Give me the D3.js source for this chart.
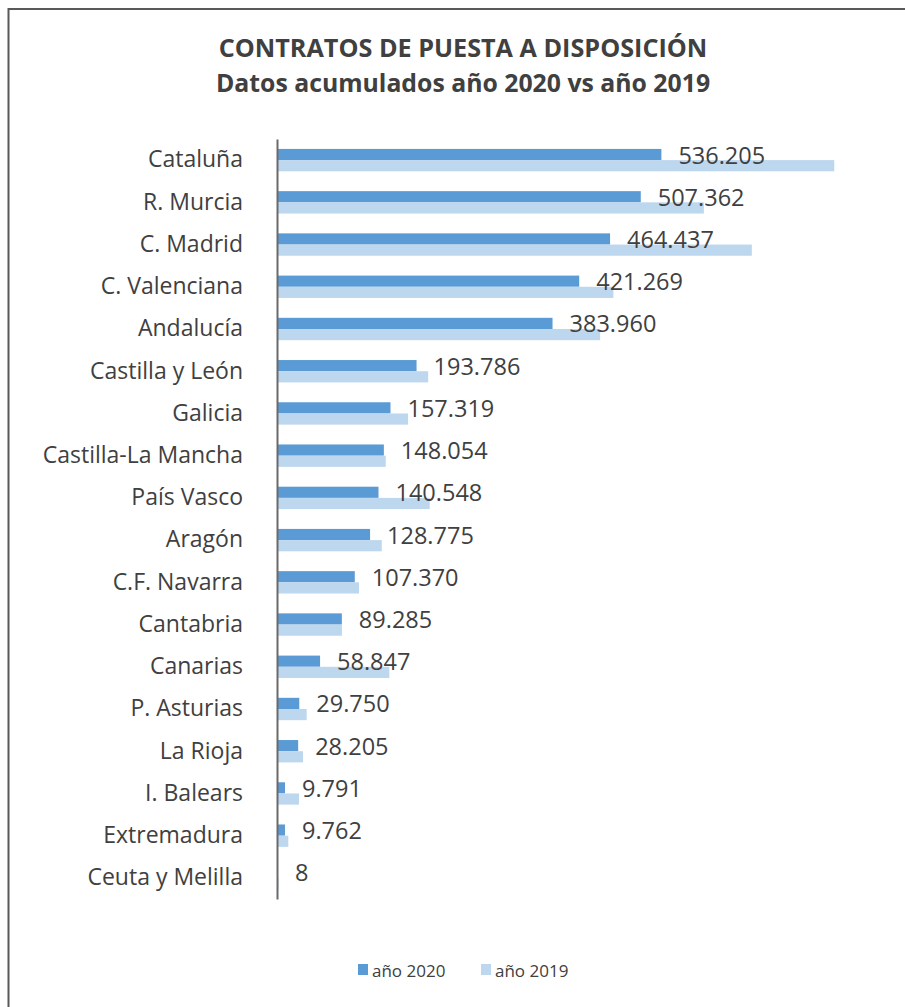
<!DOCTYPE html>
<html>
<head>
<meta charset="utf-8">
<script src="https://cdn.jsdelivr.net/npm/d3@7"></script>
<style>
  body { margin: 0; background: #fff; }
  svg { display: block; font-family: "Open Sans", sans-serif; }
</style>
</head>
<body>
<div id="chart"></div>
<script>
// data
const regions = ["Cataluña", "R. Murcia", "C. Madrid", "C. Valenciana", "Andalucía",
  "Castilla y León", "Galicia", "Castilla-La Mancha", "País Vasco", "Aragón",
  "C.F. Navarra", "Cantabria", "Canarias", "P. Asturias", "La Rioja",
  "I. Balears", "Extremadura", "Ceuta y Melilla"];
const values2020 = [536205, 507362, 464437, 421269, 383960, 193786, 157319, 148054,
  140548, 128775, 107370, 89285, 58847, 29750, 28205, 9791, 9762, 8];
// 2019 (no labels in the source)
const values2019 = [778000, 595600, 662700, 469100, 450500, 210000, 181900, 150700,
  212200, 145100, 113300, 89400, 155700, 40100, 35000, 29400, 14400, 600];
const seriesNames = ["año 2020", "año 2019"];
const colors = ["#5b9bd5", "#bdd7ee"];
const titleLines = ["CONTRATOS DE PUESTA A DISPOSICIÓN", "Datos acumulados año 2020 vs año 2019"];

const W = 905, H = 1007;
const fmt = v => d3.format(",")(v).replace(/,/g, ".");

const svg = d3.select("#chart").append("svg")
  .attr("width", W)
  .attr("height", H);

svg.append("rect").attr("width", W).attr("height", H).attr("fill", "#fff");

// outer frame (right/bottom edges run off the picture)
svg.append("rect")
  .attr("x", 8.5).attr("y", 9)
  .attr("width", W + 20).attr("height", H + 20)
  .attr("fill", "none")
  .attr("stroke", "#595959")
  .attr("stroke-width", 2);

// title
svg.selectAll("text.title")
  .data(titleLines)
  .enter().append("text")
    .attr("class", "title")
    .attr("x", 463)
    .attr("y", (d, i) => 57 + i * 35)
    .attr("text-anchor", "middle")
    .attr("font-weight", "bold")
    .attr("font-size", (d, i) => i == 0 ? 25.2 : 24.8)
    .attr("fill", "#404040")
    .text(d => d);

const rows = regions.map((r, i) => ({region: r, v: [values2020[i], values2019[i]]}));

const y = d3.scaleBand()
  .domain(regions)
  .range([139, 899])
  .paddingInner(0.47)
  .paddingOuter(0.235);

const ySub = d3.scaleBand()
  .domain([0, 1])
  .range([0, y.bandwidth()]);

const x = d3.scaleLinear()
  .domain([0, 800000])
  .range([278, 850]);

const groups = svg.append("g")
  .selectAll("g")
  .data(rows)
  .enter().append("g")
    .attr("transform", d => "translate(0," + y(d.region) + ")");

groups.selectAll("rect")
  .data(d => d.v)
  .enter().append("rect")
    .attr("x", x(0))
    .attr("y", (d, i) => ySub(i))
    .attr("width", d => x(d) - x(0))
    .attr("height", ySub.bandwidth())
    .attr("fill", (d, i) => colors[i]);

// data labels (2020 series)
groups.append("text")
  .attr("x", d => x(d.v[0]) + 17)
  .attr("y", ySub(0) + ySub.bandwidth() / 2)
  .attr("dominant-baseline", "central")
  .attr("font-size", 23.5)
  .attr("fill", "#404040")
  .text(d => fmt(d.v[0]));

// category axis
const axis = svg.append("g")
  .attr("transform", "translate(277,0)")
  .call(d3.axisLeft(y).tickSize(0).tickPadding(34));
axis.select(".domain")
  .attr("stroke", "#6a6a6a")
  .attr("stroke-width", 2);
axis.selectAll(".tick text")
  .attr("font-family", "Open Sans, sans-serif")
  .attr("font-size", 23)
  .attr("fill", "#404040");

// legend
const legend = svg.append("g")
  .selectAll("g")
  .data(seriesNames)
  .enter().append("g")
    .attr("transform", (d, i) => "translate(" + (358 + i * 123) + ",964)");
legend.append("rect")
  .attr("width", 10).attr("height", 11)
  .attr("fill", (d, i) => colors[i]);
legend.append("text")
  .attr("x", 14)
  .attr("y", 6)
  .attr("dominant-baseline", "central")
  .attr("font-size", 17)
  .attr("fill", "#404040")
  .text(d => d);
</script>
</body>
</html>
